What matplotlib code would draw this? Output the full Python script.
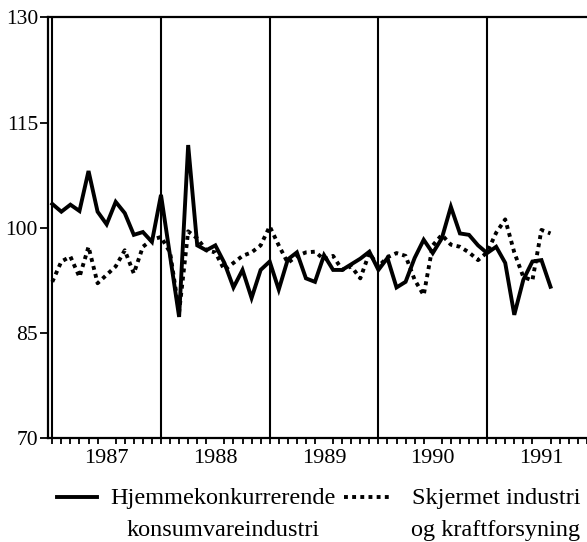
import matplotlib
matplotlib.use("Agg")
import matplotlib.pyplot as plt
from matplotlib.lines import Line2D
import numpy as np

# monthly index values, jan 1987 - aug 1991
hjemme = [103.4, 102.3, 103.3, 102.4, 108.1, 102.3, 100.5, 103.7, 102.1, 99.0, 99.4, 98.0,
          104.7, 96.0, 87.3, 111.8, 97.5, 96.8, 97.5, 95.0, 91.5, 94.0, 90.0, 94.0,
          95.2, 91.2, 95.5, 96.5, 92.8, 92.3, 96.1, 94.0, 94.0, 94.8, 95.6, 96.6,
          94.0, 95.7, 91.5, 92.3, 95.7, 98.3, 96.4, 98.5, 103.0, 99.2, 99.0, 97.5,
          96.4, 97.3, 95.0, 87.6, 92.6, 95.2, 95.4, 91.6]
skjermet = [92.3, 95.2, 95.9, 93.0, 97.3, 92.1, 93.3, 94.5, 96.8, 93.5, 97.3, 98.3,
            98.7, 96.5, 88.0, 99.5, 98.5, 96.8, 96.5, 94.0, 95.0, 96.0, 96.5, 97.5,
            100.2, 97.5, 95.0, 96.0, 96.5, 96.6, 95.5, 96.0, 94.0, 94.5, 92.8, 96.4,
            94.5, 95.8, 96.4, 96.0, 92.6, 90.4, 97.5, 99.0, 97.6, 97.3, 96.5, 95.4,
            96.5, 99.3, 101.2, 96.5, 93.0, 92.5, 99.7, 99.2]
years = [1987, 1988, 1989, 1990, 1991]
yticks = [70, 85, 100, 115, 130]
labels = [("Hjemmekonkurrerende", "konsumvareindustri"),
          ("Skjermet industri", "og kraftforsyning")]

plt.rcParams['font.family'] = ['Liberation Serif', 'DejaVu Serif']

t = 1987 + np.arange(len(hjemme)) / 12.0

fig = plt.figure(figsize=(5.87, 5.42), dpi=100)
ax = fig.add_axes([0.0813, 0.1913, 0.9187, 0.7767])

for yr in years:
    ax.axvline(yr, color='black', lw=1.5, zorder=1)

ax.plot(t, hjemme, color='black', lw=2.8, solid_joinstyle='miter', zorder=3)
ax.plot(t, skjermet, color='black', lw=2.8, dashes=(1.0, 1.1), zorder=3)

ax.set_xlim(1986.958, 1991.919)
ax.set_ylim(70, 130)
ax.set_yticks(yticks)
ax.set_xticks([y + 0.5 for y in years])
ax.set_xticklabels([str(y) for y in years])
ax.set_xticks(np.arange(1987, 1992, 1 / 12.0), minor=True)
ax.tick_params(axis='x', which='major', length=0, pad=8, labelsize=16)
ax.tick_params(axis='x', which='minor', length=4, width=1.3, direction='out')
ax.tick_params(axis='y', length=6, width=1.3, pad=1, labelsize=15.5)

ax.spines['right'].set_visible(False)
for s in ['left', 'top', 'bottom']:
    ax.spines[s].set_linewidth(1.6)

# legend drawn by hand (two lines of text, centered)
def fx(px):
    return px / 587.0

def fy(px):
    return 1 - px / 542.0

fig.add_artist(Line2D([fx(57), fx(97)], [fy(497), fy(497)], color='black', lw=2.8))
fig.add_artist(Line2D([fx(344), fx(390)], [fy(497), fy(497)], color='black', lw=2.8, dashes=(1.0, 1.1)))
for cx, (l1, l2) in zip([223, 496], labels):
    fig.text(fx(cx), fy(504), l1, ha='center', va='baseline', fontsize=17.5)
    fig.text(fx(cx), fy(536), l2, ha='center', va='baseline', fontsize=17.5)

fig.savefig("out.png", dpi=100)
